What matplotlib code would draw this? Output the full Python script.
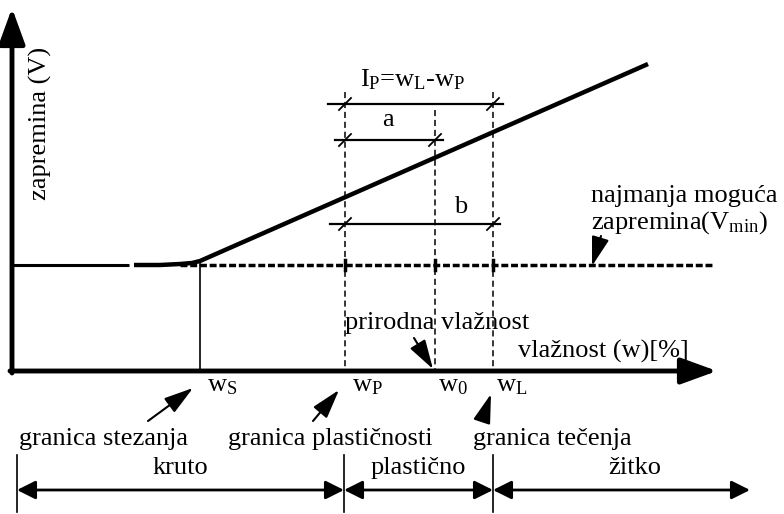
import matplotlib.pyplot as plt
from matplotlib.patches import FancyArrowPatch

plt.rcParams["font.family"] = ["Liberation Serif", "DejaVu Serif"]
plt.rcParams["mathtext.fontset"] = "custom"
plt.rcParams["mathtext.rm"] = "Liberation Serif"
plt.rcParams["mathtext.it"] = "Liberation Serif"

# schematic coordinates (pixel space of the drawing)
limit_labels = [r"w$_\mathrm{S}$", r"w$_\mathrm{P}$", r"w$_\mathrm{0}$", r"w$_\mathrm{L}$"]
limit_x = [200, 345, 435, 493]
limit_names = ["granica stezanja", "granica plastičnosti", "granica tečenja"]
name_x = [104, 330, 552]
axis_y = 371
vmin_y = 265

# volume curve
vol_x = [134, 160, 180, 192, 200, 648]
vol_y = [265, 265, 264, 263, 261, 64]

# consistency states
states = ["kruto", "plastično", "žitko"]
state_bounds = [17, 344, 493, 750]

FS = 19
HEAD = "-|>,head_length=1.0,head_width=0.3"

fig = plt.figure(figsize=(7.84, 5.14), dpi=100)
ax = fig.add_axes([0, 0, 1, 1])
ax.set_xlim(0, 784)
ax.set_ylim(514, 0)
ax.axis("off")


def arrow(x0, y0, x1, y1, style=HEAD, ms=18, lw=1.5):
    ax.add_patch(FancyArrowPatch((x0, y0), (x1, y1), arrowstyle=style, mutation_scale=ms,
                                 color="black", lw=lw, shrinkA=0, shrinkB=0))


# axes
arrow(12, axis_y + 2, 12, 8, style="-|>,head_length=1.1,head_width=0.4", ms=20, lw=3.5)
arrow(10, axis_y, 717, axis_y, style="-|>,head_length=1.1,head_width=0.4", ms=20, lw=3.5)

# minimum volume line
ax.plot([12, 129], [vmin_y, vmin_y], color="black", lw=2.2, solid_capstyle="butt")
ax.plot([180, 713], [vmin_y, vmin_y], color="black", lw=2.5, ls=(0, (2, 0.8)))
ax.plot(vol_x, vol_y, color="black", lw=3.2, solid_capstyle="butt")

# verticals at limits
ax.plot([limit_x[0], limit_x[0]], [vmin_y - 4, axis_y], color="black", lw=1.2)
tops = [None, 92, 110, 92]
for x, t in zip(limit_x[1:], tops[1:]):
    ax.plot([x, x], [t, axis_y], color="black", lw=1.1, ls=(0, (4, 2.5)))
for x in limit_x[1:]:
    ax.plot([x, x], [vmin_y - 5, vmin_y + 5], color="black", lw=2.5)

# dimension lines
dims = [(328, 503, 104, limit_x[1], limit_x[3]),
        (335, 443, 140, limit_x[1], limit_x[2]),
        (330, 500, 224, limit_x[1], limit_x[3])]
for xa, xb, y, t1, t2 in dims:
    ax.plot([xa, xb], [y, y], color="black", lw=1.6)
    for t in (t1, t2):
        ax.plot([t - 6, t + 6], [y + 6, y - 6], color="black", lw=1.3)

ax.text(413, 80, r"I$_\mathrm{P}$=w$_\mathrm{L}$-w$_\mathrm{P}$", fontsize=FS, ha="center", va="center")
ax.text(388, 120, "a", fontsize=FS, ha="center", va="center")
ax.text(461, 207, "b", fontsize=FS, ha="center", va="center")

# labels
ax.text(40, 123, "zapremina (V)", fontsize=FS, rotation=90, ha="center", va="center")
ax.text(591, 196, "najmanja moguća", fontsize=FS, ha="left", va="center")
ax.text(591, 223, r"zapremina(V$_\mathrm{min}$)", fontsize=FS, ha="left", va="center")
arrow(601, 236, 592, 266)
ax.text(345, 323, "prirodna vlažnost", fontsize=FS, ha="left", va="center")
arrow(414, 338, 433, 369)
ax.text(518, 351, "vlažnost (w)[%]", fontsize=FS, ha="left", va="center")

offs = [7, 7, 3, 3]
for lab, x, o in zip(limit_labels, limit_x, offs):
    ax.text(x + o, 386, lab, fontsize=FS, ha="left", va="center")

# limit names with arrows
arrow_from = [(148, 421), (313, 421), (482, 421)]
arrow_to = [(193, 388), (339, 390), (491, 394)]
for n, x, a, b in zip(limit_names, name_x, arrow_from, arrow_to):
    ax.text(x, 439, n, fontsize=FS, ha="center", va="center")
    arrow(a[0], a[1], b[0], b[1])

# states
for x in state_bounds[:3]:
    ax.plot([x, x], [455, 512], color="black", lw=1.2)
for i, s in enumerate(states):
    xa, xb = state_bounds[i], state_bounds[i + 1]
    arrow(xa, 490, xb, 490, style="<|-|>,head_length=0.7,head_width=0.35", ms=16, lw=2)
    ax.text((xa + xb) / 2 if i < 2 else 635, 468, s, fontsize=FS, ha="center", va="center")

fig.savefig("out.png", dpi=100)
